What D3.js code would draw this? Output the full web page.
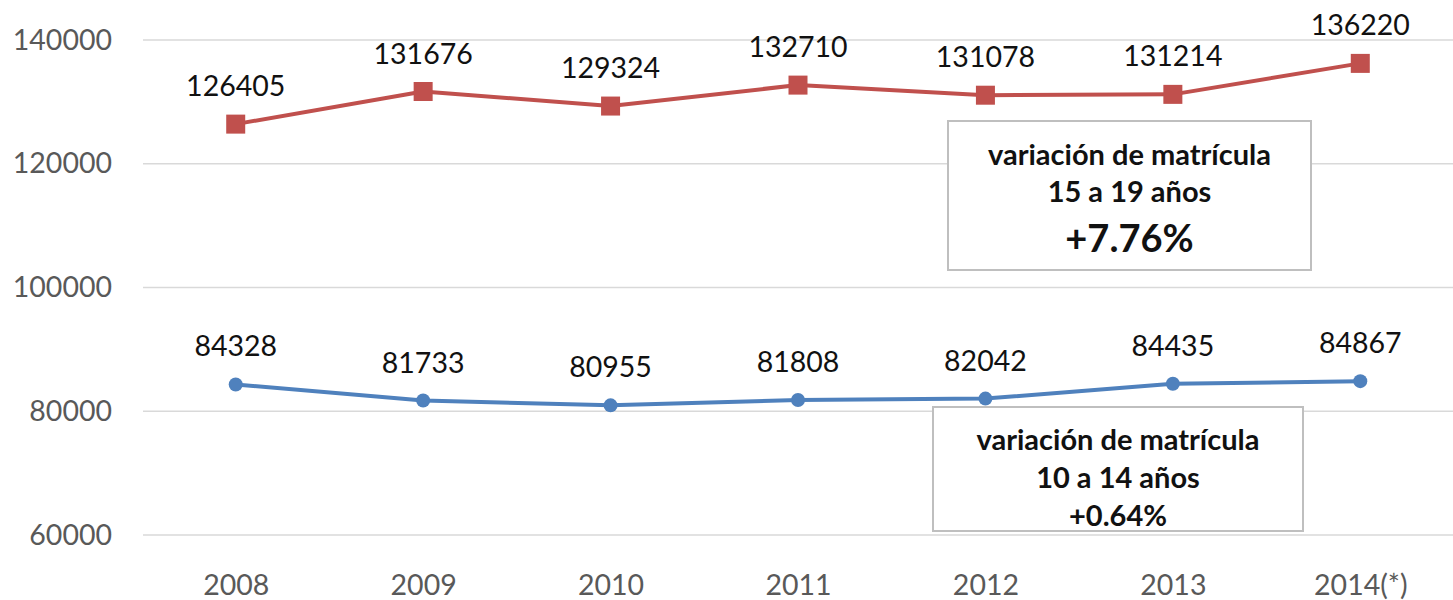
<!DOCTYPE html>
<html><head><meta charset="utf-8">
<script src="https://cdn.jsdelivr.net/npm/d3@7"></script>
<style>
html,body{margin:0;padding:0;background:#fff;}
svg{display:block;}
</style></head>
<body>
<svg id="chart" width="1453" height="600"></svg>
<script>
const years = ["2008","2009","2010","2011","2012","2013","2014(*)"];
const age15to19 = [126405,131676,129324,132710,131078,131214,136220];
const age10to14 = [84328,81733,80955,81808,82042,84435,84867];
const yTicks = [60000,80000,100000,120000,140000];
const note15 = ["variación de matrícula","15 a 19 años","+7.76%"];
const note10 = ["variación de matrícula","10 a 14 años","+0.64%"];

const svg = d3.select("#chart");
const FONT = "Lato, 'Open Sans', sans-serif";
const x = d3.scalePoint().domain(years).range([142,1454]).padding(0.5);
const y = d3.scaleLinear().domain([60000,140000]).range([535,40]);

// gridlines
svg.append("g").selectAll("line").data(yTicks).join("line")
  .attr("x1",143).attr("x2",1453)
  .attr("y1",d=>y(d)).attr("y2",d=>y(d))
  .attr("stroke","#d9d9d9").attr("stroke-width",1.5);

// y axis
const yAxis = d3.axisLeft(y).tickValues(yTicks).tickSize(0).tickPadding(0).tickFormat(d3.format("d"));
const ga = svg.append("g").attr("transform","translate(112,0)").call(yAxis);
ga.select(".domain").remove();
ga.selectAll("text").attr("font-family",FONT).attr("font-size",28.5).attr("fill","#595959");

// x axis
const xAxis = d3.axisBottom(x).tickSize(0).tickPadding(0);
const gx = svg.append("g").attr("transform","translate(0,575)").call(xAxis);
gx.select(".domain").remove();
gx.selectAll("text").attr("font-family",FONT).attr("font-size",28.5).attr("fill","#595959").attr("dy","0.71em");

// annotation boxes
function note(lines, bx, by, bw, bh, ys, sizes){
  const g = svg.append("g");
  g.append("rect").attr("x",bx).attr("y",by).attr("width",bw).attr("height",bh)
    .attr("fill","#fff").attr("stroke","#bfbfbf").attr("stroke-width",2);
  g.selectAll("text").data(lines).join("text")
    .attr("x",bx+bw/2).attr("y",(d,i)=>ys[i]).attr("text-anchor","middle")
    .attr("dominant-baseline","central")
    .attr("font-family",FONT).attr("font-weight","bold")
    .attr("font-size",(d,i)=>sizes[i]).attr("fill","#111").text(d=>d);
}
note(note15, 948,121,363,149,[153,190,237],[29,29,38]);
note(note10, 933,407,370,124,[438,476,514],[29,29,29]);

// series
const line = d3.line().x((d,i)=>x(years[i])).y(d=>y(d));
function series(vals,color,marker){
  svg.append("path").datum(vals).attr("d",line).attr("fill","none")
    .attr("stroke",color).attr("stroke-width",4).attr("stroke-linejoin","round");
  const g = svg.append("g");
  if(marker==="square"){
    g.selectAll("rect").data(vals).join("rect")
      .attr("x",(d,i)=>x(years[i])-9.5).attr("y",d=>y(d)-9.5)
      .attr("width",19).attr("height",19).attr("fill",color);
  } else {
    g.selectAll("circle").data(vals).join("circle")
      .attr("cx",(d,i)=>x(years[i])).attr("cy",d=>y(d)).attr("r",7).attr("fill",color);
  }
  svg.append("g").selectAll("text").data(vals).join("text")
    .attr("x",(d,i)=>x(years[i])).attr("y",d=>y(d)-28)
    .attr("text-anchor","middle").attr("font-family",FONT).attr("font-size",28.5)
    .attr("fill","#111").text(d=>d);
}
series(age15to19,"#c0504d","square");
series(age10to14,"#4f81bd","circle");
</script>
</body></html>
